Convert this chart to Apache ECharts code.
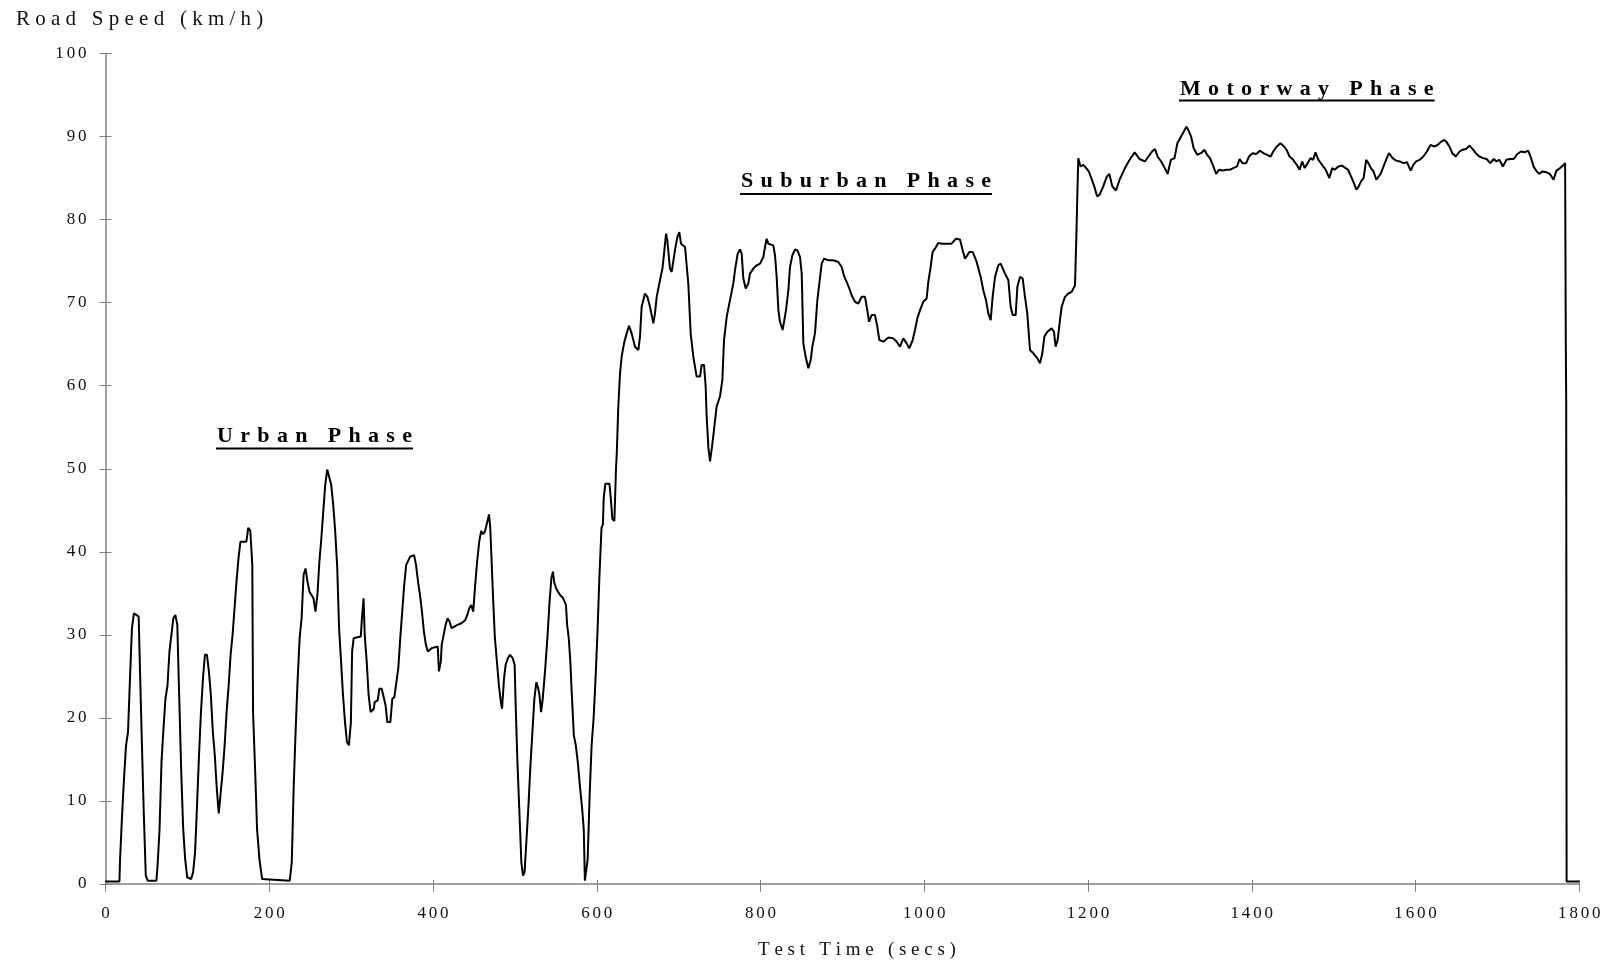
<!DOCTYPE html>
<html>
<head>
<meta charset="utf-8">
<title>Road Speed vs Test Time</title>
<script src="https://cdn.jsdelivr.net/npm/echarts@6/dist/echarts.min.js"></script>
<style>
  html, body { margin: 0; padding: 0; background: #ffffff; }
  #chart { width: 1607px; height: 964px; }
</style>
</head>
<body>
<div id="chart"></div>
<script>
// Speed trace, [test time (s), road speed (km/h)], split by driving phase
const urbanPhase = [
  [0,0.3],[17,0.3],[17.8,3],[20.2,8.2],[22.6,12.7],[25.1,16.7],[27.5,18.3],[29.9,24.7],[32.3,30.8],[34.7,32.6],[37.1,32.8],[40.5,32.2],[42.4,24.7],[44.3,17.5],[46.7,8.7],[49.2,1],[51.6,0.4],[62.2,0.4],
  [63.6,2.2],[66,6.6],[68.4,14.7],[70.8,18.7],[73.2,22.3],[75.7,23.9],[78.1,28],[80.5,30],[82.9,32],[85.3,32.4],[87.7,31.2],[90.1,22.3],[92.5,13.5],[94.9,6.6],[97.3,3],[99.8,0.8],[104.6,0.6],
  [107,1.4],[109.4,3.8],[111.8,9.5],[114.2,15.5],[116.6,20.7],[119,24.7],[121.4,27.6],[123.9,27.6],[126.3,25.6],[128.7,22.7],[131.1,18.3],[133.5,15.5],[135.9,11.5],[138.3,8.5],[140.7,11],
  [143.1,13.5],[145.5,16.7],[147.9,20.7],[150.4,23.9],[152.8,27.6],[155.2,30],[157.6,33.2],[160,36.4],[162.4,39.2],[164.8,41.2],[172,41.2],[174.4,42.9],[176.9,42.5],[179.3,38.4],[180.2,20.7],
  [183.1,12.7],[185.1,6.6],[188,3],[191.3,0.6],[193.7,0.4],[225,0.4],[227.5,2.6],[229.9,11.9],[232.3,18.7],[234.7,24.7],[237.1,29.6],[239.5,32],[241.9,37.2],[244.3,38],[246.7,36.4],[249.1,35.2],
  [251.6,34.8],[254,34.4],[256.4,32.8],[258.8,34.8],[261.2,38.8],[263.6,41.6],[266,44.9],[268.4,48.1],[270.8,49.9],[273.2,49.7],[275.6,48.1],[278.1,45.7],[280.5,42.5],[282.9,38.4],[285.3,30.8],
  [287.7,26.8],[290.1,22.7],[292.5,19.5],[294.9,17.1],[297.3,16.7],[299.7,19.5],[301.2,28],[303.1,29.6],[304.6,29.8],[311.8,29.8],[313.2,32],[315.2,34.4],[316.6,30],[319,26.8],[321.4,22.7],
  [323.8,20.7],[327.7,21.1],[328.7,21.9],[332.5,22.1],[334.4,23.5],[337.3,23.5],[339.3,22.7],[342.1,21.5],[344.1,19.5],[347.9,19.5],[350.3,22.3],[352.8,22.5],[355.2,22.7],[357.6,26],[360,29.6],
  [362.4,32.8],[364.8,36],[367.2,38.4],[372,39.4],[376.9,39.6],[379.3,38.4],[381.7,36.4],[384.1,34.8],[386.5,32.8],[388.9,30.4],[391.3,28.8],[393.7,28],[396.1,27.8],[398.5,28.4],[400.9,28.6],
  [405.8,28.6],[407.2,25.6],[409.6,26.8],[410.6,28.8],[413,30],[415.4,31.2],[417.8,32],[420.2,31.6],[422.6,30.8],[425,30.9],[429.9,31.2],[434.7,31.4],[439.5,31.8],[441.9,32.4],[444.3,33.2],
  [446.7,33.6],[449.1,32.8],[451.5,36],[453.9,38.8],[456.4,41.2],[458.8,42.5],[461.2,42.1],[463.6,42.5],[466,42.5],[468.4,44.5],[469.9,42.9],[470.8,40.8],[473.2,34.8],[475.6,29.6],[478,26.8],
  [480.5,23.9],[482.9,21.9],[484.3,21.1],[486.7,24.7],[488.7,26.4],[491.5,27.2],[494,27.6],[497.3,27.2],[499.7,26.4],[501.2,20.7],[503.1,14.7],[506,7.4],[507.9,2.6],[509.9,1],[511.8,1.4],
  [514.2,5.4],[516.6,9.5],[519,14.3],[521.4,18.3],[523.8,22.3],[526.2,24.3],[528.6,23.5],[530.1,22.7],[532,20.7],[534,22.3],[536.8,25.6],[539.7,29.6],[542.1,33.6],[544.5,36.8],[546.5,37.6],
  [547.9,36.4],[550.3,35.6],[552.7,35.2],[555.2,34.8],[559,34.4],[562.4,33.6],[563.8,31.2],[565.8,29.6],[567.7,26.8],[569.6,22.7],[572,17.9],[574.4,16.7],[576.8,14.7],[579.3,11.9],[582.1,9.1],
  [584.1,6.6],[585.5,0.4],[587.4,0.6],[588.9,3],[591.3,10.7],[593.7,16.7],[596.1,19.9],[598.5,24.7],[600.9,30.4],[603.3,37.2],[605.8,42.9],[607.5,43.3],[608.5,46.5],[610.5,48.2],[615.5,48.2],
  [617.5,46],[619,44],[621.5,43.7],[623.5,50],[624.5,52]
];

const suburbanPhase = [
  [626.3,57.5],[628.4,61.5],[630.4,63.5],[633.3,65.1],[636.5,66.3],[639.4,67.2],[642.6,66.3],[646.7,64.7],[650.8,64.3],[652.8,65.9],[654.8,69.5],[658.9,71.1],[661.8,70.7],[665,69.5],[669.1,67.5],
  [671.1,68.7],[673.2,70.7],[677.2,72.7],[680.5,74.3],[684.6,78.3],[686.2,77.5],[689.4,74.1],[691.5,73.7],[695.5,76.3],[698.4,77.9],[700.8,78.5],[702.9,77.1],[707.8,76.7],[711.8,72.3],[714.7,66.3],
  [717.9,63.5],[722,61.1],[726.1,61.1],[728.1,62.5],[731,62.5],[733,59.9],[734.2,56.3],[736.3,52.6],[738.3,50.9],[740.7,52.6],[743.2,54.7],[746.4,57.5],[750.5,58.7],[753.4,60.7],[755.4,65.5],
  [758.7,68.3],[763.5,70.7],[766.8,72.3],[768.8,73.9],[772.1,75.9],[774.9,76.4],[777,75.9],[779,72.9],[781.9,71.7],[785.1,72.3],[787.1,73.5],[791.2,74.1],[795.3,74.5],[799.4,74.7],[803.4,75.5],
  [805.5,76.7],[807.5,77.7],[809.5,77.1],[815.6,76.9],[817.7,75.7],[819.7,73.1],[821.8,69.1],[823.8,67.7],[827,66.7],[829.1,66.7],[831.1,69.1],[834,71.5],[836,74.3],[838.9,75.7],[842.1,76.4],
  [845,76.3],[848.2,75.5],[850.3,73.5],[852.3,65.1],[855.1,63.5],[858.4,62.1],[861.3,63.1],[863.3,64.7],[866.5,66.3],[869.4,70.3],[871.8,72.3],[874.7,74.7],[877.5,75.3],[882.8,75.1],[888.9,75.1],
  [895,74.9],[899.1,74.3],[902.4,73.1],[905.2,72.5],[908.5,71.7],[911.3,70.9],[915.4,70.1],[919.5,69.9],[923.5,70.7],[927.6,70.7],[930.4,69.1],[932.5,67.7],[935.7,68.5],[939.8,68.5],[942.7,67.1],
  [945.1,65.5],[950,65.3],[956.1,65.8],[962.2,65.7],[966.3,65.3],[970.3,64.7],[974.4,65.7],[978.5,65.1],[981.7,64.5],[985.8,65.5],[988.7,66.7],[991.5,68.1],[994.8,69.1],[998.8,70.1],[1002.9,70.5],
  [1004.9,72.5],[1007.8,74.3],[1010.2,76.1],[1013.1,76.5],[1017.2,77.2],[1021.2,77.1],[1027.3,77.1],[1033.4,77.1],[1038.7,77.7],[1043.6,77.6],[1046.9,76.3],[1049.7,75.3],[1052.6,75.7],[1055,76.1],
  [1059.1,76.1],[1064,74.9],[1068.9,73.1],[1072.1,71.5],[1075.4,70.3],[1078.2,68.7],[1081.1,67.9],[1083.5,70.7],[1086.4,73.1],[1090.4,74.5],[1093.3,74.7],[1098.6,73.5],[1102.7,72.7],[1105.5,69.5],
  [1108,68.5],[1111.6,68.5],[1113.7,71.9],[1116.9,73.1],[1120.2,72.9],[1123,70.7],[1125.8,68.7],[1129.1,64.3],[1133.2,63.9],[1138.1,63.3],[1141.3,62.7],[1144.2,63.9],[1146.6,65.9],[1150.3,66.5],
  [1155.6,66.9],[1158.4,66.5],[1160.4,64.7],[1162.9,65.5],[1165.7,67.9],[1167.8,69.5],[1171.8,70.7],[1175.9,71.1],[1180,71.3],[1184.1,72.1]
];

const motorwayPhase = [
  [1185.5,77.1],[1186.8,82.4],[1188.1,87.4],[1190.8,86.4],[1194.3,86.6],[1197.8,86.2],[1200.9,85.8],[1204,85],[1207.6,84],[1211.1,82.8],[1214.2,83],[1218.6,84],[1223,85.2],[1226.1,85.5],[1229.6,84],
  [1234.1,83.5],[1238.5,84.8],[1245.1,86.2],[1250.8,87.2],[1257,88.1],[1262.8,87.3],[1269.4,87],[1273.8,87.6],[1278.2,88.2],[1281.8,88.5],[1284.9,87.6],[1289.3,87],[1293.7,86.2],[1297.2,85.5],
  [1301.2,87.2],[1305.6,87.4],[1309.1,89.2],[1313.6,90],[1317.1,90.6],[1320.2,91.2],[1323.3,90.6],[1325.9,90],[1329,88.6],[1333.4,87.8],[1337.9,88],[1342.3,88.4],[1345.4,87.8],[1348.9,87.4],
  [1352.4,86.6],[1356.4,85.5],[1359.9,86],[1364.4,85.9],[1368.8,86],[1373.2,86],[1377.6,86.2],[1382,86.4],[1385.1,87.3],[1388.6,86.8],[1393.1,86.8],[1396.6,87.6],[1401,88],[1405.4,87.9],
  [1409.9,88.3],[1414.3,88],[1418.7,87.8],[1423.1,87.6],[1426.2,88.2],[1430.6,88.8],[1435,89.2],[1439.4,88.8],[1442.5,88.4],[1446.1,87.6],[1450.5,87.2],[1454.9,86.6],[1458.4,86],[1461.5,87],
  [1464.6,86.2],[1468.2,86.8],[1471.7,87.4],[1474.8,87.2],[1477.9,88.1],[1481.4,87.2],[1485.8,86.6],[1490.3,86],[1494.7,85],[1498.2,86.2],[1501.3,86],[1505.7,86.4],[1510.2,86.5],[1514.6,86.2],
  [1517.6,86],[1521.2,85.2],[1524.7,84.4],[1527.8,83.6],[1530,83.9],[1533.5,84.6],[1536.6,85],[1539.7,87.2],[1542.4,86.8],[1545.5,86.2],[1548.6,85.8],[1552.1,84.8],[1554.3,84.6],[1557.4,85.5],
  [1560.9,86.4],[1564.5,87.3],[1567.5,88],[1572,87.4],[1576.4,87.1],[1580.8,87],[1585.2,86.8],[1589.6,86.9],[1594.1,85.9],[1597.2,86.6],[1600.7,87],[1605.1,87.2],[1609.5,87.6],[1613.9,88.2],
  [1618.3,89],[1622.8,88.8],[1627.2,89],[1631.6,89.4],[1635.1,89.6],[1638.2,89.3],[1641.3,88.8],[1644.9,88],[1649.3,87.6],[1653.7,88.2],[1657.2,88.4],[1661.6,88.5],[1666,88.9],[1670.5,88.4],
  [1673.6,88],[1678,87.6],[1682.4,87.4],[1686.8,87.3],[1691.2,86.8],[1695.6,87.3],[1698.7,87],[1702.3,87.2],[1706.7,86.4],[1711.1,87.2],[1715.5,87.3],[1719.9,87.3],[1724.3,87.9],[1728.8,88.2],
  [1733.2,88.1],[1737.6,88.3],[1741.1,87.4],[1744.2,86.4],[1747.3,85.9],[1750.8,85.5],[1755.3,85.8],[1759.7,85.7],[1764.1,85.5],[1768.5,84.8],[1772.1,85.9],[1776.5,86.2],[1780,86.5],[1782.7,86.8],
  [1783.5,65],[1784,58],[1784.5,0.3],[1800,0.3]
];

// Axis ranges and labels
const timeAxis = { min: 0, max: 1800, step: 200 };
const speedAxis = { min: 0, max: 100, step: 10 };
const axisTitles = { x: 'Test Time (secs)', y: 'Road Speed (km/h)' };
const phaseNames = ['Urban Phase', 'Suburban Phase', 'Motorway Phase'];

// Wide tracking for the serif lettering: join the glyphs with a narrow space
function track(str, gap) {
  return Array.from(str).join(gap);
}

const SERIF = '"Liberation Serif", "DejaVu Serif", serif';
const AXIS_GREY = '#808080';
const TICK_GAP = '\u2006';

const chart = echarts.init(document.getElementById('chart'), null, { renderer: 'canvas' });

const grid = { left: 105.5, right: 27.7, top: 53.5, bottom: 80 };

function timeAxisDef(primary) {
  return {
    type: 'value', position: 'bottom',
    min: timeAxis.min, max: timeAxis.max, interval: timeAxis.step,
    splitLine: { show: false },
    axisLine: { show: primary, lineStyle: { color: AXIS_GREY, width: 1.5 } },
    axisTick: { show: true, inside: !primary, length: primary ? 8 : 4, lineStyle: { color: AXIS_GREY, width: 1 } },
    axisLabel: {
      show: primary, margin: 21, color: '#111', fontFamily: SERIF, fontSize: 17,
      formatter: v => track(String(v), TICK_GAP)
    }
  };
}

function speedAxisDef(primary) {
  return {
    type: 'value', position: 'left',
    min: speedAxis.min, max: speedAxis.max, interval: speedAxis.step,
    splitLine: { show: false },
    axisLine: { show: primary, lineStyle: { color: AXIS_GREY, width: 1.5 } },
    axisTick: { show: true, inside: !primary, length: 6, lineStyle: { color: AXIS_GREY, width: 1 } },
    axisLabel: {
      show: primary, margin: 19, color: '#111', fontFamily: SERIF, fontSize: 17,
      formatter: v => track(String(v), TICK_GAP)
    }
  };
}

// Phase captions: bold, tracked, underlined
const phaseLayout = [
  { x: 217, y: 436, rule: 447.5 },
  { x: 741, y: 181.5, rule: 193 },
  { x: 1180, y: 89.5, rule: 99.5 }
];

const measureCtx = document.createElement('canvas').getContext('2d');
const PHASE_FONT = 'bold 22px ' + SERIF;
measureCtx.font = PHASE_FONT;

const phaseGraphics = [];
phaseNames.forEach((name, i) => {
  const txt = track(name, '\u2004');
  const w = measureCtx.measureText(txt).width;
  const p = phaseLayout[i];
  phaseGraphics.push({
    type: 'text', x: p.x, y: p.y, silent: true,
    style: { text: txt, font: PHASE_FONT, fill: '#000', textAlign: 'left', textVerticalAlign: 'middle' }
  });
  phaseGraphics.push({
    type: 'rect', silent: true,
    shape: { x: p.x - 1, y: p.rule, width: w + 2, height: 2 },
    style: { fill: '#000' }
  });
});

const option = {
  animation: false,
  backgroundColor: '#ffffff',
  grid: grid,
  xAxis: [timeAxisDef(true), timeAxisDef(false)],
  yAxis: [speedAxisDef(true), speedAxisDef(false)],
  series: [{
    name: 'Road Speed',
    type: 'line',
    xAxisIndex: 0, yAxisIndex: 0,
    data: urbanPhase.concat(suburbanPhase, motorwayPhase),
    showSymbol: false, symbol: 'none',
    lineStyle: { color: '#000', width: 2 },
    z: 5
  }],
  graphic: [
    {
      type: 'text', x: 16, y: 19.5, silent: true,
      style: { text: track(axisTitles.y, '\u2005'), font: '21px ' + SERIF, fill: '#111', textAlign: 'left', textVerticalAlign: 'middle' }
    },
    {
      type: 'text', x: 857, y: 950, silent: true,
      style: { text: track(axisTitles.x, '\u2005'), font: '19px ' + SERIF, fill: '#111', textAlign: 'center', textVerticalAlign: 'middle' }
    }
  ].concat(phaseGraphics)
};

chart.setOption(option);
</script>
</body>
</html>
